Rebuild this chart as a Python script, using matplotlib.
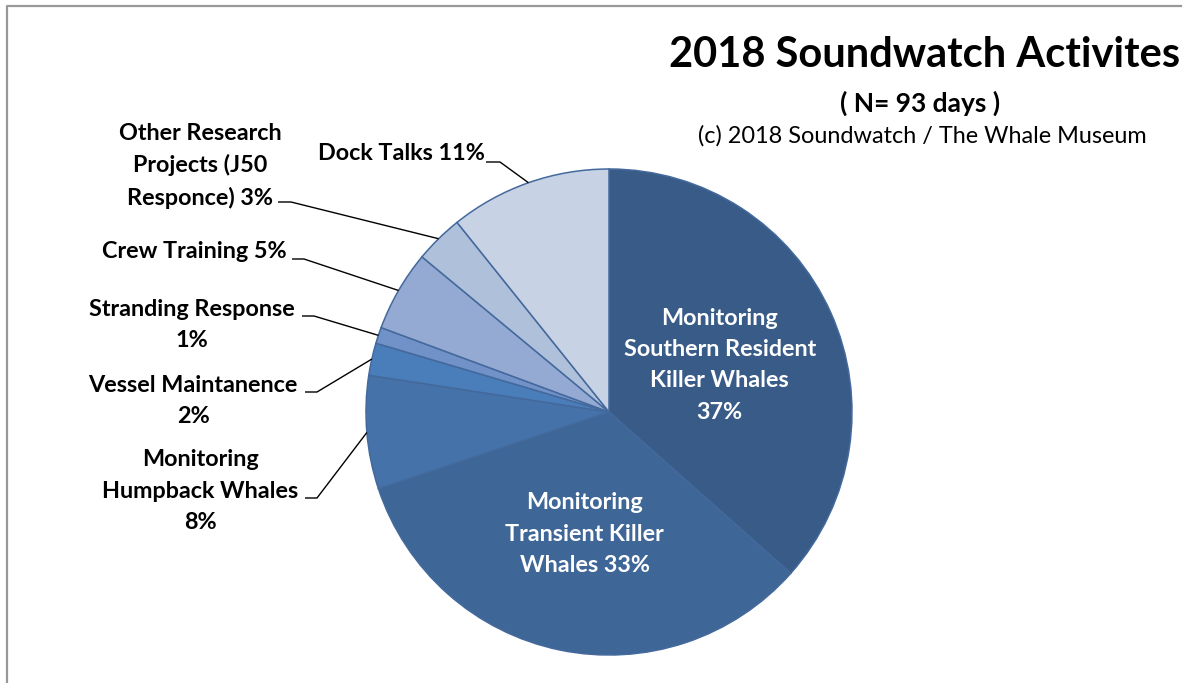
import matplotlib.pyplot as plt
import numpy as np
from matplotlib.lines import Line2D

# days spent on each activity (N = 93), clockwise from 12 o'clock
activities = ['Southern Resident', 'Transient', 'Humpback', 'Vessel',
              'Stranding', 'Crew', 'Other', 'Dock']
days = [34, 31, 7, 2, 1, 5, 3, 10]
label_fmt = ['Monitoring\nSouthern Resident\nKiller Whales\n{}%',
             'Monitoring\nTransient Killer\nWhales {}%',
             'Monitoring\nHumpback Whales\n{}%',
             'Vessel Maintanence\n{}%',
             'Stranding Response\n{}%',
             'Crew Training {}%',
             'Other Research\nProjects (J50\nResponce) {}%',
             'Dock Talks {}%']
colors = ['#385b87', '#3e6697', '#4572a8', '#4a7ebb',
          '#7191c9', '#95aad2', '#afc0db', '#c8d2e5']

W, H = 1186, 683
FONT = 'Lato'
LBL_SIZE = 16.8
LSPACE = 1.6

fig = plt.figure(figsize=(W / 100, H / 100), dpi=100)
ax = fig.add_axes([0, 0, 1, 1])

cx, cy, R = 609, H - 412, 243
wedges, _ = ax.pie(days, colors=colors, startangle=90, counterclock=False,
                   center=(cx, cy), radius=R,
                   wedgeprops=dict(edgecolor='#44699c', linewidth=1.1))
ax.set_xlim(0, W)
ax.set_ylim(0, H)
ax.set_aspect('equal')
ax.axis('off')

total = sum(days)
pcts = [round(100 * d / total) for d in days]
cum = np.cumsum([0] + days)
mid_ang = [(cum[i] + cum[i + 1]) / 2 / total * 2 * np.pi for i in range(len(days))]


def on_circle(ang, r):
    return cx + r * np.sin(ang), cy + r * np.cos(ang)


# labels inside the two big slices
for i in (0, 1):
    x, y = on_circle(mid_ang[i], 0.5 * R)
    ax.text(x, y - 3, label_fmt[i].format(pcts[i]), ha='center', va='center',
            color='white', fontsize=LBL_SIZE, fontweight='bold', family=FONT,
            linespacing=LSPACE)

# outside labels: block centre, leader start, leader elbow (pixels from top-left)
outer = {
    2: ((200, 491), (305, 498), (317, 498)),
    3: ((193, 401), (305, 392), (317, 392)),
    4: ((192, 325), (302, 316), (314, 316)),
    5: ((194, 251), (292, 259), (304, 259)),
    6: ((200, 166), (278, 202), (291, 202)),
    7: ((401, 154), (486, 162), (500, 162)),
}
for i, (pos, start, elbow) in outer.items():
    ax.text(pos[0], H - pos[1], label_fmt[i].format(pcts[i]), ha='center',
            va='center', color='black', fontsize=LBL_SIZE, fontweight='bold',
            family=FONT, linespacing=LSPACE)
    ex, ey = on_circle(mid_ang[i], R)
    ax.plot([start[0], elbow[0], ex], [H - start[1], H - elbow[1], ey],
            color='black', lw=1.0, solid_capstyle='butt')

# titles
ax.text(1180, H - 55, '2018 Soundwatch Activites', ha='right', va='center',
        fontsize=30, fontweight='bold', family=FONT)
ax.text(920, H - 103, '( N= 93 days )', ha='center', va='center',
        fontsize=19, fontweight='bold', family=FONT)
ax.text(922, H - 136, '(c) 2018 Soundwatch / The Whale Museum', ha='center',
        va='center', fontsize=16.9, family=FONT)

# chart area frame (top and left edges)
fig.add_artist(Line2D([7 / W, 7 / W, 1181 / W], [0, 1 - 6 / H, 1 - 6 / H],
                      transform=fig.transFigure, color='#999999', lw=1.6))

plt.savefig('out.png', dpi=100)
